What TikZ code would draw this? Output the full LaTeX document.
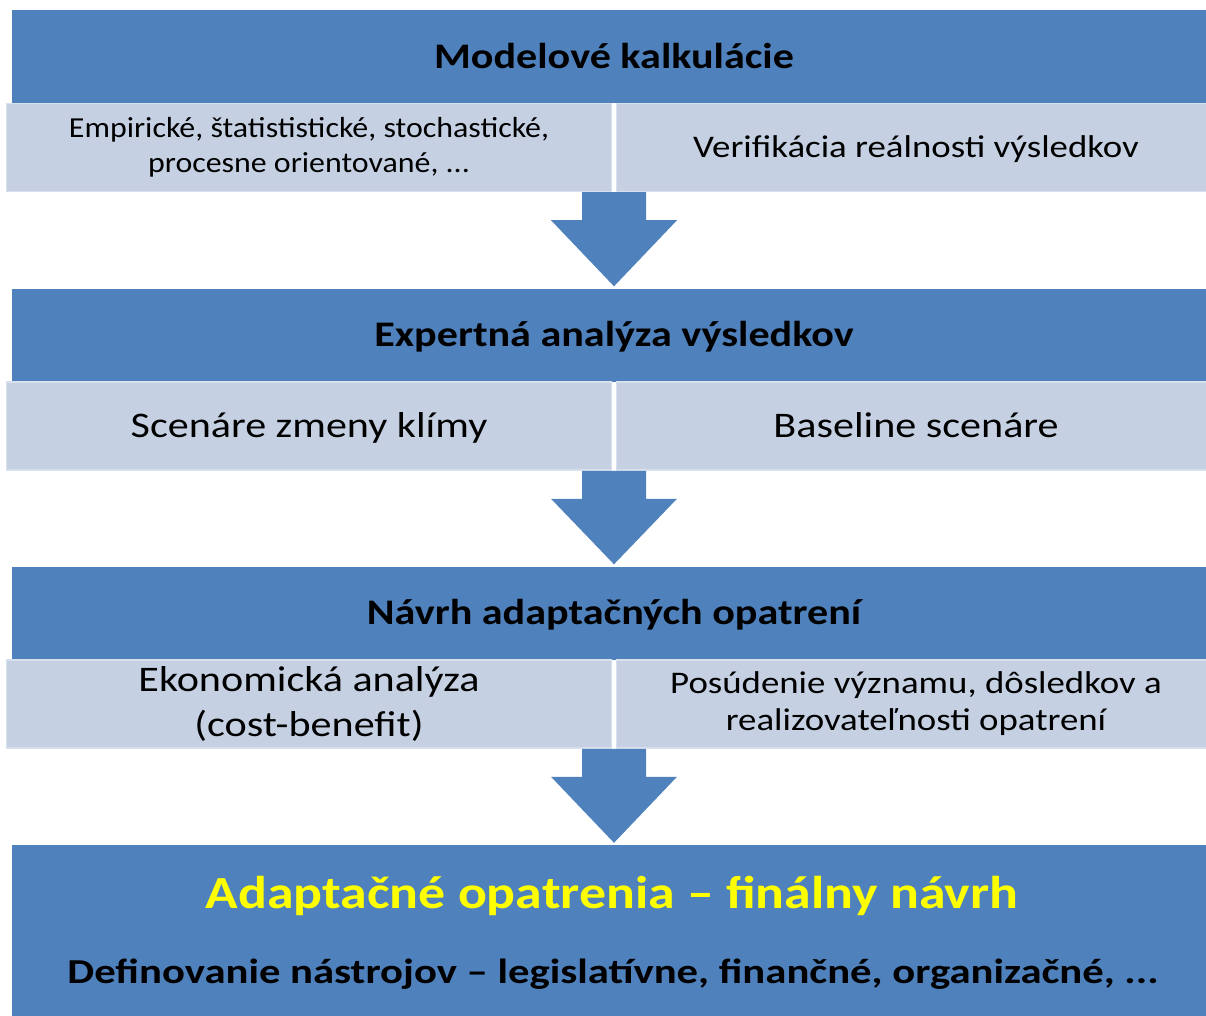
\documentclass[tikz,border=0pt]{standalone}
\usepackage{fontspec}
\setmainfont{Carlito}
\newfontfamily\wfont[FakeStretch=1.17]{Carlito}
\newfontfamily\nfont[FakeStretch=1.10]{Carlito}
\newfontfamily\dfont[FakeStretch=1.22]{Carlito}
\usetikzlibrary{calc}
\definecolor{hblue}{RGB}{79,129,189}
\definecolor{sblue}{RGB}{197,209,227}
\definecolor{sedge}{RGB}{216,224,237}
\definecolor{fyellow}{RGB}{255,255,0}
\tikzset{
  box_h/.style = {rectangle, fill=hblue, inner sep=0pt, align=center,
    minimum width=1204pt, minimum height=93pt, text height=32.4pt, text depth=9.2pt,
    font=\wfont\bfseries\fontsize{36}{42}\selectfont},% hlavny krok
  box_s/.style = {rectangle, fill=sblue, draw=sedge, line width=1.5pt,
    inner sep=0pt, align=center, minimum height=88pt},% pod-krok
  box_sl/.style = {box_s, minimum width=605pt},
  box_sr/.style = {box_s, minimum width=599pt},
  box_f/.style = {rectangle, fill=hblue, inner sep=0pt,
    minimum width=1204pt, minimum height=171pt},% finalny navrh
  txt_s/.style = {font=\nfont\fontsize{29}{35}\selectfont},
  txt_m/.style = {font=\wfont\fontsize{36}{45}\selectfont},
  txt_m1/.style = {txt_m, text height=32.4pt, text depth=9.2pt},
  txt_n/.style = {font=\wfont\fontsize{31.5}{37}\selectfont},
  txt_n1/.style = {txt_n, text height=28pt, text depth=7.7pt},
  txt_y/.style = {inner sep=0pt, text=fyellow, text height=41pt, text depth=11.4pt,
    font=\wfont\bfseries\fontsize{46}{54}\selectfont},
  txt_d/.style = {inner sep=0pt, text=black, text height=32pt, text depth=9.5pt,
    font=\dfont\bfseries\fontsize{35}{42}\selectfont},
  blk_arr/.style = {fill=hblue},
}

\begin{document}
\begin{tikzpicture}[x=1pt,y=-1pt]
\clip (0,0) rectangle (1206,1016);
%   Modelove kalkulacie
  \node[box_h] (h1) at (614,56.5) {Modelové kalkulácie};
  \node[box_sl, txt_s] (s1l) at (309,147.5) {Empirické, štatististické, stochastické,\\procesne orientované, ...};
  \node[box_sr, txt_n1] (s1r) at (916,147.5) {Verifikácia reálnosti výsledkov};
%   Expertna analyza
  \node[box_h] (h2) at (614,335) {Expertná analýza výsledkov};
  \node[box_sl, txt_m1] (s2l) at (309,426) {Scenáre zmeny klímy};
  \node[box_sr, txt_m1] (s2r) at (916,426) {Baseline scenáre};
%   Navrh opatreni
  \node[box_h] (h3) at (614,613) {Návrh adaptačných opatrení};
  \node[box_sl, txt_m] (s3l) at (309,704) {Ekonomická analýza\\(cost-benefit)};
  \node[box_sr, txt_n] (s3r) at (916,704) {Posúdenie významu, dôsledkov a\\realizovateľnosti opatrení};
%   finalny navrh
  \node[box_f] (f) at (614,930.5) {};
  \node[txt_y] (ft) at (612,894) {Adaptačné opatrenia – finálny návrh};
  \node[txt_d] (fd) at (613,972.5) {Definovanie nástrojov – legislatívne, finančné, organizačné, ...};

%   sipky
  \fill[blk_arr] let \p1=($(s1l.south east)!0.5!(s1r.south west)$), \p2=(h2.north) in
    (\x1-32pt,\y1) -- (\x1+32pt,\y1) -- (\x1+32pt,\y1-28pt) -- (\x1+63pt,\y1-28pt)
    -- (\x1,\y2+2pt) -- (\x1-63pt,\y1-28pt) -- (\x1-32pt,\y1-28pt) -- cycle;
  \fill[blk_arr] let \p1=($(s2l.south east)!0.5!(s2r.south west)$), \p2=(h3.north) in
    (\x1-32pt,\y1) -- (\x1+32pt,\y1) -- (\x1+32pt,\y1-28pt) -- (\x1+63pt,\y1-28pt)
    -- (\x1,\y2+2pt) -- (\x1-63pt,\y1-28pt) -- (\x1-32pt,\y1-28pt) -- cycle;
  \fill[blk_arr] let \p1=($(s3l.south east)!0.5!(s3r.south west)$), \p2=(f.north) in
    (\x1-32pt,\y1) -- (\x1+32pt,\y1) -- (\x1+32pt,\y1-28pt) -- (\x1+63pt,\y1-28pt)
    -- (\x1,\y2+2pt) -- (\x1-63pt,\y1-28pt) -- (\x1-32pt,\y1-28pt) -- cycle;
\end{tikzpicture}
\end{document}
